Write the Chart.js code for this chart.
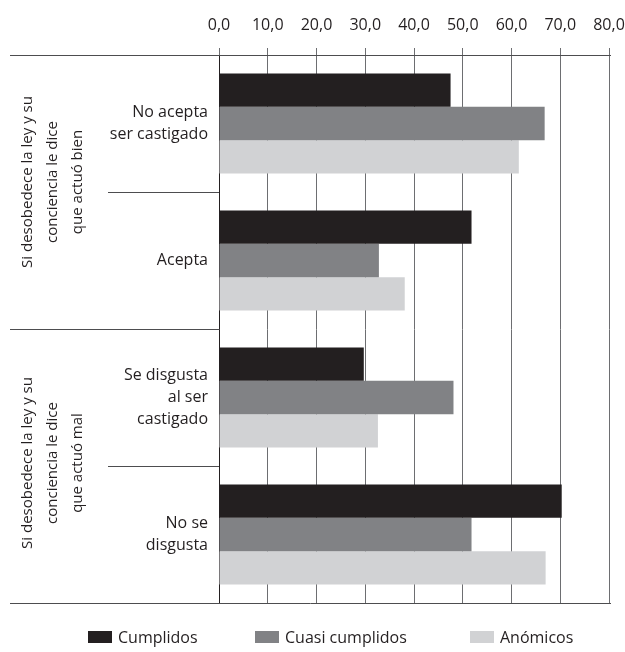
<!DOCTYPE html>
<html>
<head>
<meta charset="utf-8">
<script src="https://cdn.jsdelivr.net/npm/chart.js@4/dist/chart.umd.min.js"></script>
<style>
  html, body { margin: 0; padding: 0; background: #ffffff; }
  #wrap { width: 625px; height: 652px; position: relative; }
</style>
</head>
<body>
<div id="wrap"><canvas id="c"></canvas></div>
<script>
// Categories (multiline labels) and the two groups they belong to
const categories = [
  ['No acepta', 'ser castigado'],
  ['Acepta'],
  ['Se disgusta', 'al ser', 'castigado'],
  ['No se', 'disgusta']
];
const groupLabels = [
  ['Si desobedece la ley y su', 'conciencia le dice', 'que actuó bien'],
  ['Si desobedece la ley y su', 'conciencia le dice', 'que actuó mal']
];
const seriesNames = ['Cumplidos', 'Cuasi cumplidos', 'Anómicos'];
const cumplidos      = [47.5, 51.8, 29.7, 70.3];
const cuasiCumplidos = [66.8, 32.8, 48.1, 51.8];
const anomicos       = [61.5, 38.1, 32.6, 67.0];
const xTicks = [0, 10, 20, 30, 40, 50, 60, 70, 80];

const colors = ['#231f20', '#818285', '#d1d2d4'];
const FONT = '"Open Sans", sans-serif';
const TEXT = '#231f20';

// Separators, rotated group titles and the legend
const decorations = {
  id: 'decorations',
  afterDraw(chart) {
    const ctx = chart.ctx;
    const area = chart.chartArea;
    const y = chart.scales.y;
    ctx.save();
    ctx.strokeStyle = '#4d4d4f';
    ctx.lineWidth = 1;
    const hline = (x0, x1, yy) => {
      ctx.beginPath();
      ctx.moveTo(x0, Math.round(yy) + 0.5);
      ctx.lineTo(x1, Math.round(yy) + 0.5);
      ctx.stroke();
    };
    // top and bottom frame lines
    hline(10, area.right + 2, area.top);
    hline(10, area.right + 2, area.bottom);
    // boundaries between categories
    hline(108, area.left, (y.getPixelForValue(0) + y.getPixelForValue(1)) / 2);
    hline(10, area.left, (y.getPixelForValue(1) + y.getPixelForValue(2)) / 2);
    hline(108, area.left, (y.getPixelForValue(2) + y.getPixelForValue(3)) / 2);

    // rotated group titles
    ctx.fillStyle = TEXT;
    ctx.font = '15px ' + FONT;
    ctx.textAlign = 'center';
    ctx.textBaseline = 'middle';
    const mid = (y.getPixelForValue(1) + y.getPixelForValue(2)) / 2;
    const centers = [(area.top + mid) / 2 - 10, (mid + area.bottom) / 2 - 3];
    groupLabels.forEach((lines, g) => {
      ctx.save();
      ctx.translate(53, centers[g]);
      ctx.rotate(-Math.PI / 2);
      lines.forEach((t, i) => ctx.fillText(t, 0, (i - 1) * 25));
      ctx.restore();
    });

    // legend
    const legendX = [88, 255, 470];
    const ly = 637;
    ctx.textAlign = 'left';
    ctx.font = '16px ' + FONT;
    seriesNames.forEach((name, i) => {
      ctx.fillStyle = colors[i];
      ctx.fillRect(legendX[i], ly - 6, 24, 12);
      ctx.fillStyle = TEXT;
      ctx.fillText(name, legendX[i] + 30, ly + 1);
    });
    ctx.restore();
  }
};

new Chart(document.getElementById('c'), {
  type: 'bar',
  data: {
    labels: categories,
    datasets: [
      { label: seriesNames[0], data: cumplidos, backgroundColor: colors[0] },
      { label: seriesNames[1], data: cuasiCumplidos, backgroundColor: colors[1] },
      { label: seriesNames[2], data: anomicos, backgroundColor: colors[2] }
    ]
  },
  options: {
    indexAxis: 'y',
    responsive: true,
    maintainAspectRatio: false,
    animation: false,
    layout: { padding: { top: 0, left: 0, right: 16, bottom: 49 } },
    datasets: { bar: { categoryPercentage: 0.73, barPercentage: 1.0, borderWidth: 0 } },
    plugins: { legend: { display: false }, tooltip: { enabled: false } },
    scales: {
      x: {
        position: 'top',
        min: 0,
        max: 80,
        afterBuildTicks(scale) { scale.ticks = xTicks.map(v => ({ value: v })); },
        afterFit(scale) {
          scale.height = 55;
          scale.paddingLeft = 0;
          scale.paddingRight = 0;
        },
        ticks: {
          color: TEXT,
          font: { family: FONT, size: 16 },
          padding: 13,
          maxRotation: 0,
          callback: v => v.toFixed(1).replace('.', ',')
        },
        grid: {
          color: '#6d6e71',
          lineWidth: 1,
          tickLength: 7,
          drawTicks: true
        },
        border: { display: true, color: '#4d4d4f', width: 1 }
      },
      y: {
        afterFit(scale) {
          scale.width = 219;
          scale.paddingTop = 0;
          scale.paddingBottom = 0;
        },
        ticks: {
          color: TEXT,
          font: { family: FONT, size: 16, lineHeight: 1.4 },
          padding: 11
        },
        grid: { display: false, drawTicks: false },
        border: { display: true, color: '#231f20', width: 1 }
      }
    }
  },
  plugins: [decorations]
});
</script>
</body>
</html>
